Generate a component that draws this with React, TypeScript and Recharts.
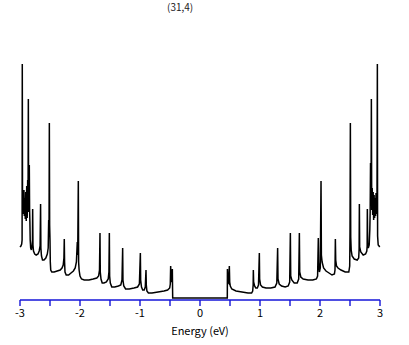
import React from 'react';
import { LineChart, Line, XAxis, YAxis } from 'recharts';

const energy: number[] = [
  -3.0, -2.985, -2.972, -2.965, -2.962, -2.958, -2.952, -2.946, -2.94, -2.934, -2.928, -2.92, -2.912, -2.904, -2.896, -2.888, -2.88, -2.872, -2.866, -2.861,
  -2.856, -2.85, -2.845, -2.84, -2.835, -2.83, -2.822, -2.81, -2.8, -2.792, -2.789, -2.784, -2.775, -2.755, -2.73, -2.7, -2.68, -2.665, -2.657, -2.652,
  -2.642, -2.625, -2.6, -2.57, -2.545, -2.53, -2.522, -2.516, -2.511, -2.506, -2.5, -2.495, -2.488, -2.47, -2.43, -2.38, -2.33, -2.3, -2.28, -2.268,
  -2.262, -2.257, -2.25, -2.23, -2.19, -2.15, -2.11, -2.08, -2.06, -2.045, -2.038, -2.028, -2.023, -2.015, -2.0, -1.975, -1.93, -1.85, -1.78, -1.72,
  -1.69, -1.675, -1.667, -1.662, -1.65, -1.63, -1.6, -1.56, -1.53, -1.518, -1.511, -1.506, -1.495, -1.47, -1.42, -1.36, -1.32, -1.3, -1.289, -1.284,
  -1.27, -1.24, -1.18, -1.1, -1.04, -1.01, -0.994, -0.989, -0.975, -0.955, -0.93, -0.912, -0.9, -0.895, -0.885, -0.86, -0.8, -0.7, -0.6, -0.54,
  -0.505, -0.495, -0.489, -0.482, -0.47, -0.461, -0.457, -0.455, 0.455,
  0.457, 0.466, 0.478, 0.489, 0.495, 0.505, 0.53, 0.6, 0.7, 0.8, 0.86, 0.878, 0.886, 0.889, 0.894, 0.91, 0.93, 0.955, 0.975, 0.989,
  0.994, 1.01, 1.04, 1.1, 1.18, 1.25, 1.28, 1.294, 1.3, 1.32, 1.36, 1.42, 1.47, 1.495, 1.506, 1.512, 1.53, 1.57, 1.62, 1.645,
  1.656, 1.662, 1.68, 1.72, 1.8, 1.88, 1.94, 1.96, 1.972, 1.978, 1.99, 2.005, 2.017, 2.023, 2.035, 2.06, 2.1, 2.15, 2.2, 2.24,
  2.25, 2.256, 2.262, 2.275, 2.3, 2.35, 2.42, 2.48, 2.495, 2.5, 2.506, 2.512, 2.52, 2.535, 2.57, 2.62, 2.645, 2.652, 2.656, 2.661,
  2.68, 2.72, 2.76, 2.78, 2.786, 2.789, 2.795, 2.805, 2.82, 2.83, 2.836, 2.842, 2.848, 2.852, 2.856, 2.862, 2.87, 2.878, 2.886, 2.894,
  2.902, 2.91, 2.918, 2.926, 2.934, 2.942, 2.95, 2.956, 2.96, 2.97, 2.985, 2.995,
];

const dos: number[] = [
  51, 52, 54, 58, 234, 103, 86, 102, 84, 108, 82, 100, 79, 106, 77, 112, 80, 118, 93, 199,
  86, 118, 133, 88, 76, 58, 50, 48, 52, 58, 89, 53, 47, 44, 43, 44, 47, 52, 94, 50,
  42, 38, 38, 40, 44, 50, 78, 66, 175, 73, 58, 36, 28, 26, 26, 27, 28, 30, 33, 40,
  59, 36, 26, 23, 23, 25, 27, 30, 36, 56, 43, 117, 36, 28, 22, 19, 18, 18, 19, 20,
  22, 28, 65, 26, 19, 15, 15, 16, 19, 26, 65, 22, 15, 11, 11, 12, 13, 18, 50, 18,
  12, 9, 9, 10, 11, 14, 45, 18, 11, 8, 8, 11, 28, 13, 7, 5, 5, 6, 7, 8,
  10, 14, 32, 16, 18, 29, 8, 0, 0,
  29, 16, 15, 32, 16, 12, 9, 7, 6, 5, 5, 7, 13, 28, 16, 12, 10, 10, 13, 45,
  19, 13, 11, 10, 10, 11, 15, 50, 19, 14, 12, 11, 12, 16, 65, 22, 18, 15, 15, 19,
  65, 26, 21, 19, 18, 18, 19, 22, 60, 36, 26, 30, 117, 43, 36, 30, 27, 25, 23, 24,
  28, 59, 38, 32, 30, 28, 26, 26, 32, 65, 175, 61, 48, 42, 39, 38, 40, 49, 94, 51,
  46, 43, 44, 47, 52, 89, 55, 50, 53, 68, 86, 135, 110, 123, 199, 88, 110, 83, 106, 78,
  103, 80, 100, 82, 105, 84, 101, 234, 62, 53, 52, 51,
];

const xTicks: number[] = [-3, -2.5, -2, -1.5, -1, -0.5, 0, 0.5, 1, 1.5, 2, 2.5, 3];
const title = '(31,4)';
const xLabel = 'Energy (eV)';

const data = energy.map((e, i) => ({ e, d: dos[i] }));

const font = '"Noto Sans CJK JP", "DejaVu Sans", sans-serif';
const axisBlue = '#1414d8';

export default function App() {
  return (
    <div style={{ position: 'absolute', left: 0, top: 0, width: 409, height: 345, background: '#fff' }}>
      <div
        style={{
          position: 'absolute',
          left: 167,
          top: 0,
          fontSize: 10,
          fontFamily: font,
          color: '#222',
          lineHeight: '14px',
        }}
      >
        {title}
      </div>
      <LineChart width={409} height={345} data={data} margin={{ top: 58, right: 29, bottom: 0, left: 20 }}>
        <XAxis
          dataKey="e"
          type="number"
          domain={[-3, 3]}
          ticks={xTicks}
          interval={0}
          height={45}
          tickSize={6}
          tickMargin={3}
          axisLine={{ stroke: axisBlue, strokeWidth: 1.4 }}
          tickLine={{ stroke: axisBlue, strokeWidth: 1.4 }}
          tick={{ fill: '#000', fontSize: 11, fontFamily: font }}
          tickFormatter={(v: number) => (Number.isInteger(v) ? String(v) : '')}
          label={{ value: xLabel, position: 'insideBottom', offset: 10, fill: '#000', fontSize: 11, fontFamily: font }}
        />
        <YAxis hide type="number" domain={[-2, 240]} allowDataOverflow />
        <Line
          type="linear"
          dataKey="d"
          stroke="#000"
          strokeWidth={1.5}
          dot={false}
          isAnimationActive={false}
        />
      </LineChart>
    </div>
  );
}
